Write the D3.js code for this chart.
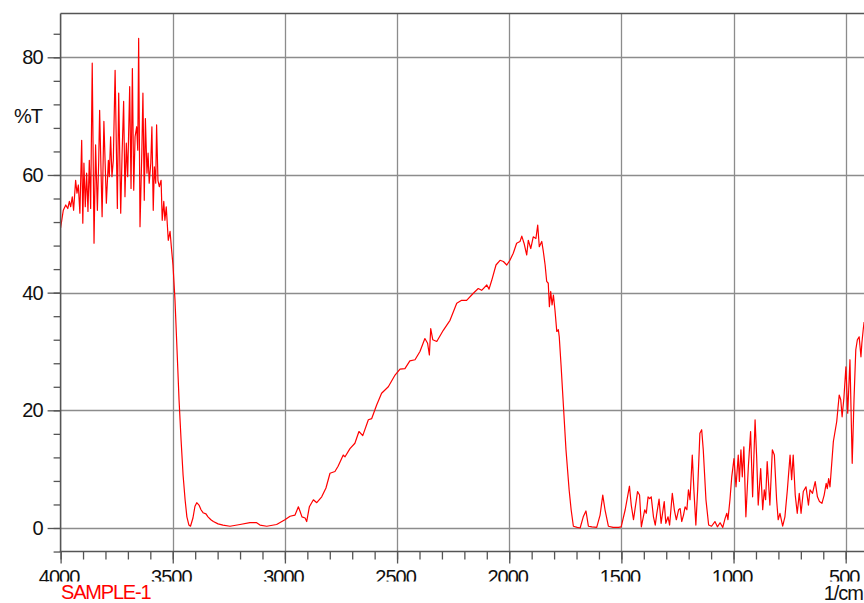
<!DOCTYPE html>
<html>
<head>
<meta charset="utf-8">
<script src="https://cdn.jsdelivr.net/npm/d3@7"></script>
<style>
  html, body { margin: 0; padding: 0; background: #fff; }
  svg { display: block; }
  text { font-family: "Liberation Sans", Arial, sans-serif; }
</style>
</head>
<body>
<svg id="chart" width="864" height="603"></svg>
<script>
// ---- data ----
const wavenumber = [
  4000,3988,3977,3968,3961,3955,3948,3942,3933,3927,3921,3914,3906,3901,3896,3890,3884,3878,3872,3866,
  3859,3851,3844,3836,3830,3826,3815,3807,3796,3787,3783,3777,3771,3765,3757,3747,3741,3732,3726,3719,
  3713,3707,3701,3692,3686,3680,3674,3668,3661,3656,3652,3646,3638,3633,3627,3622,3615,3610,3605,3598,
  3593,3587,3582,3576,3572,3566,3560,3552,3547,3540,3535,3529,3520,3512,3505,
  3499,3490,3481,3472,3463,3454,3445,3437,3428,3421,3410,3401,3393,3383,3374,3365,3352,3343,3330,3319,
  3298,3276,3245,3200,3156,3126,3111,3081,3037,3000,2977,2955,2940,2933,2924,2910,2903,2891,2873,2858,
  2836,2817,2799,2777,2763,2740,2732,2710,2688,2670,2653,2628,2613,2591,2569,2539,2509,2487,2465,2443,
  2420,2398,2376,2364,2356,2350,2341,2323,2294,2264,2234,2212,2190,2160,2138,2123,2100,2090,2078,2059,
  2041,2026,2011,1997,1982,1967,1952,1944,1934,1922,1915,1904,1893,1881,1873,1866,1855,1848,1840,1833,
  1826,1821,1815,1809,1803,1796,1788,1781,1777,1769,1760,1747,1733,1724,1714,1697,1684,1670,1658,1647,
  1631,1610,1595,1583,1573,1558,1537,1513,1501,1483,1464,1456,1446,1428,1419,1411,1396,1389,1381,1374,
  1367,1357,1349,1342,1332,1323,1309,1302,1292,1285,1273,1264,1255,1245,1238,1231,1223,1216,1208,1201,
  1194,1184,1176,1168,1160,1150,1142,1135,1123,1111,1098,1083,1072,1060,1048,1038,1030,1025,1016,1008,
  998,989,979,974,967,961,954,945,934,924,915,904,897,890,879,870,863,857,850,838,
  827,818,808,801,793,781,771,760,748,741,734,725,716,707,699,689,677,666,659,648,
  636,626,617,606,596,587,582,576,570,555,540,529,522,516,508,499,491,481,471,463,
  455,448,440,432,428,422,418
];
const transmittance = [
  51.0,54.0,54.9,54.3,55.5,54.6,56.3,54.0,59.1,56.9,58.3,53.5,65.9,51.8,62.0,54.6,60.3,53.8,62.5,54.3,
  79.0,48.4,65.1,54.0,62.5,71.0,52.9,69.1,55.2,62.5,59.7,66.5,59.7,62.5,77.8,54.3,73.9,53.5,63.4,72.5,
  56.3,65.4,59.7,75.0,57.7,78.1,57.4,66.5,68.2,64.2,83.2,51.2,63.7,73.9,55.7,69.6,60.3,63.7,58.6,62.0,
  68.2,54.0,61.4,58.6,68.5,59.1,58.0,59.1,52.3,55.5,52.3,54.6,48.9,50.4,47.2,
  44.7,38.7,30.3,21.8,15.0,9.0,4.8,1.9,0.5,0.3,1.7,3.7,4.3,3.9,3.1,2.6,2.4,1.9,1.4,1.1,
  0.7,0.5,0.3,0.6,0.9,0.9,0.5,0.3,0.6,1.4,2.0,2.2,3.6,2.9,1.9,1.7,1.1,3.6,4.8,4.3,
  5.3,6.8,9.3,9.6,10.5,12.4,12.1,13.5,14.4,16.4,15.7,18.4,18.6,20.9,22.9,24.0,26.0,27.0,27.1,28.4,
  28.6,30.0,32.2,31.4,29.4,33.9,32.0,31.7,33.6,35.3,38.2,38.7,38.7,39.9,40.7,40.4,41.3,40.6,42.1,44.7,
  45.5,45.3,44.7,45.5,46.7,48.4,48.7,49.6,48.4,46.4,48.9,47.5,49.5,49.2,51.5,47.8,48.7,47.0,44.7,41.9,
  41.6,37.6,40.2,37.9,39.6,37.0,33.4,33.7,32.5,27.7,21.8,13.3,6.5,3.1,0.3,0.1,0.0,1.9,2.9,0.3,
  0.2,0.1,2.2,5.6,3.1,0.3,0.1,0.1,0.2,3.1,7.1,3.9,1.4,6.2,5.6,0.2,3.1,2.5,5.3,5.0,
  5.3,1.9,0.5,2.5,4.9,0.8,4.5,0.8,1.9,0.5,5.9,3.1,1.4,3.1,3.3,1.1,2.2,3.6,3.1,6.5,
  4.8,12.4,5.9,0.5,6.5,16.1,16.7,13.3,4.8,0.5,0.3,1.1,0.2,0.9,0.1,1.6,2.5,1.4,4.8,8.7,
  11.8,7.0,12.4,7.9,13.3,8.7,13.8,1.9,10.4,16.4,5.3,18.4,12.1,3.9,10.1,3.1,6.5,4.8,11.3,3.9,
  13.3,12.4,4.8,1.4,2.5,0.3,1.9,6.5,12.4,8.2,12.4,5.6,2.5,5.9,2.5,6.2,7.0,3.9,6.5,5.9,
  7.9,5.3,4.5,4.2,5.6,7.6,6.7,8.4,7.0,14.7,18.1,22.6,21.8,18.9,22.1,27.4,19.5,28.6,11.0,21.8,
  30.3,32.0,32.5,29.1,31.4,33.7,35.0
];
const xMajorTicks = [4000, 3500, 3000, 2500, 2000, 1500, 1000, 500];
const yMajorTicks = [0, 20, 40, 60, 80];
const yAxisLabel = "%T";
const xAxisLabel = "1/cm";
const sampleName = "SAMPLE-1";

(function () {
// ---- layout ----
const svg = d3.select("#chart");
const pLeft = 60.6, pRight = 864, pTop = 13.5, pBottom = 551.5;
const x = d3.scaleLinear().domain([4000, 500]).range([pLeft, 845.7]);
const y = d3.scaleLinear().domain([0, 80]).range([528, 57.3]);
const gridColor = "#8c8c8c";
const axisColor = "#555";
const font = "'Liberation Sans', Arial, sans-serif";
const fmt = d3.format("d");

const xMinor = d3.range(4000, 399, -100).filter(v => x(v) <= pRight + 0.5);
const yMinor = d3.range(-4, 88, 4);

// grid
const grid = svg.append("g");
grid.selectAll("line.vx").data(xMajorTicks.filter(v => v !== 4000)).join("line")
  .attr("x1", d => Math.round(x(d)) + 0.5).attr("x2", d => Math.round(x(d)) + 0.5)
  .attr("y1", pTop).attr("y2", pBottom)
  .attr("stroke", gridColor).attr("stroke-width", 1.3);
grid.selectAll("line.hy").data(yMajorTicks).join("line")
  .attr("x1", pLeft).attr("x2", pRight)
  .attr("y1", d => Math.round(y(d)) + 0.5).attr("y2", d => Math.round(y(d)) + 0.5)
  .attr("stroke", gridColor).attr("stroke-width", 1.3);

// spectrum
svg.append("clipPath").attr("id", "plotclip").append("rect")
  .attr("x", pLeft).attr("y", pTop).attr("width", pRight - pLeft).attr("height", pBottom - pTop);
const n = Math.min(wavenumber.length, transmittance.length);
const pts = d3.range(n).map(i => [wavenumber[i], transmittance[i]]);
svg.append("path").datum(pts)
  .attr("clip-path", "url(#plotclip)")
  .attr("fill", "none").attr("stroke", "#ff0000").attr("stroke-width", 1.2)
  .attr("stroke-linejoin", "round")
  .attr("d", d3.line().x(d => x(d[0])).y(d => y(d[1])));

// top frame line
svg.append("line").attr("x1", pLeft).attr("x2", pRight).attr("y1", pTop).attr("y2", pTop)
  .attr("stroke", axisColor).attr("stroke-width", 1.6);

// y axis
const yMinorAxis = d3.axisLeft(y).tickValues(yMinor).tickSize(7).tickFormat("");
const yMajorAxis = d3.axisLeft(y).tickValues(yMajorTicks).tickSize(13).tickPadding(5).tickFormat(fmt);
const gyMinor = svg.append("g").attr("transform", `translate(${pLeft},0)`).call(yMinorAxis);
const gyMajor = svg.append("g").attr("transform", `translate(${pLeft},0)`).call(yMajorAxis);
[gyMinor, gyMajor].forEach(g => {
  g.select(".domain").remove();
  g.selectAll(".tick line").attr("stroke", axisColor).attr("stroke-width", 1.3);
});
gyMajor.selectAll(".tick text").attr("font-size", 20).attr("fill", "#111")
  .attr("letter-spacing", "-1px").attr("font-family", font);
svg.append("line").attr("x1", pLeft).attr("x2", pLeft).attr("y1", pTop).attr("y2", pBottom + 0.5)
  .attr("stroke", axisColor).attr("stroke-width", 1.6);

// x axis (labels cut at the bottom like the reference)
svg.append("clipPath").attr("id", "xlabclip").append("rect")
  .attr("x", 0).attr("y", -600).attr("width", 900).attr("height", 581.5 - pBottom + 600);
const xMinorAxis = d3.axisBottom(x).tickValues(xMinor).tickSize(8).tickFormat("");
const xMajorAxis = d3.axisBottom(x).tickValues(xMajorTicks).tickSize(12).tickPadding(6).tickFormat(fmt);
const gxMinor = svg.append("g").attr("transform", `translate(0,${pBottom})`).call(xMinorAxis);
const gxMajor = svg.append("g").attr("transform", `translate(0,${pBottom})`).attr("clip-path", "url(#xlabclip)");
gxMajor.append("g").call(xMajorAxis);
[gxMinor, gxMajor].forEach(g => {
  g.selectAll(".domain").remove();
  g.selectAll(".tick line").attr("stroke", axisColor).attr("stroke-width", 1.3);
});
gxMajor.selectAll(".tick text").attr("font-size", 20).attr("fill", "#111")
  .attr("letter-spacing", "-1px").attr("font-family", font)
  .attr("dx", "-2");
svg.append("line").attr("x1", pLeft - 0.8).attr("x2", pRight).attr("y1", pBottom).attr("y2", pBottom)
  .attr("stroke", axisColor).attr("stroke-width", 1.6);

// labels
svg.append("text").attr("x", 42).attr("y", 123).attr("text-anchor", "end")
  .attr("font-size", 20).attr("letter-spacing", "-1px").attr("fill", "#111").text(yAxisLabel);
svg.append("text").attr("x", 863).attr("y", 599.5).attr("text-anchor", "end")
  .attr("font-size", 20).attr("letter-spacing", "-1px").attr("fill", "#111").text(xAxisLabel);
svg.append("text").attr("x", 61).attr("y", 599)
  .attr("font-size", 20).attr("letter-spacing", "-1.2px").attr("fill", "#ff0000").text(sampleName);
})();
</script>
</body>
</html>
